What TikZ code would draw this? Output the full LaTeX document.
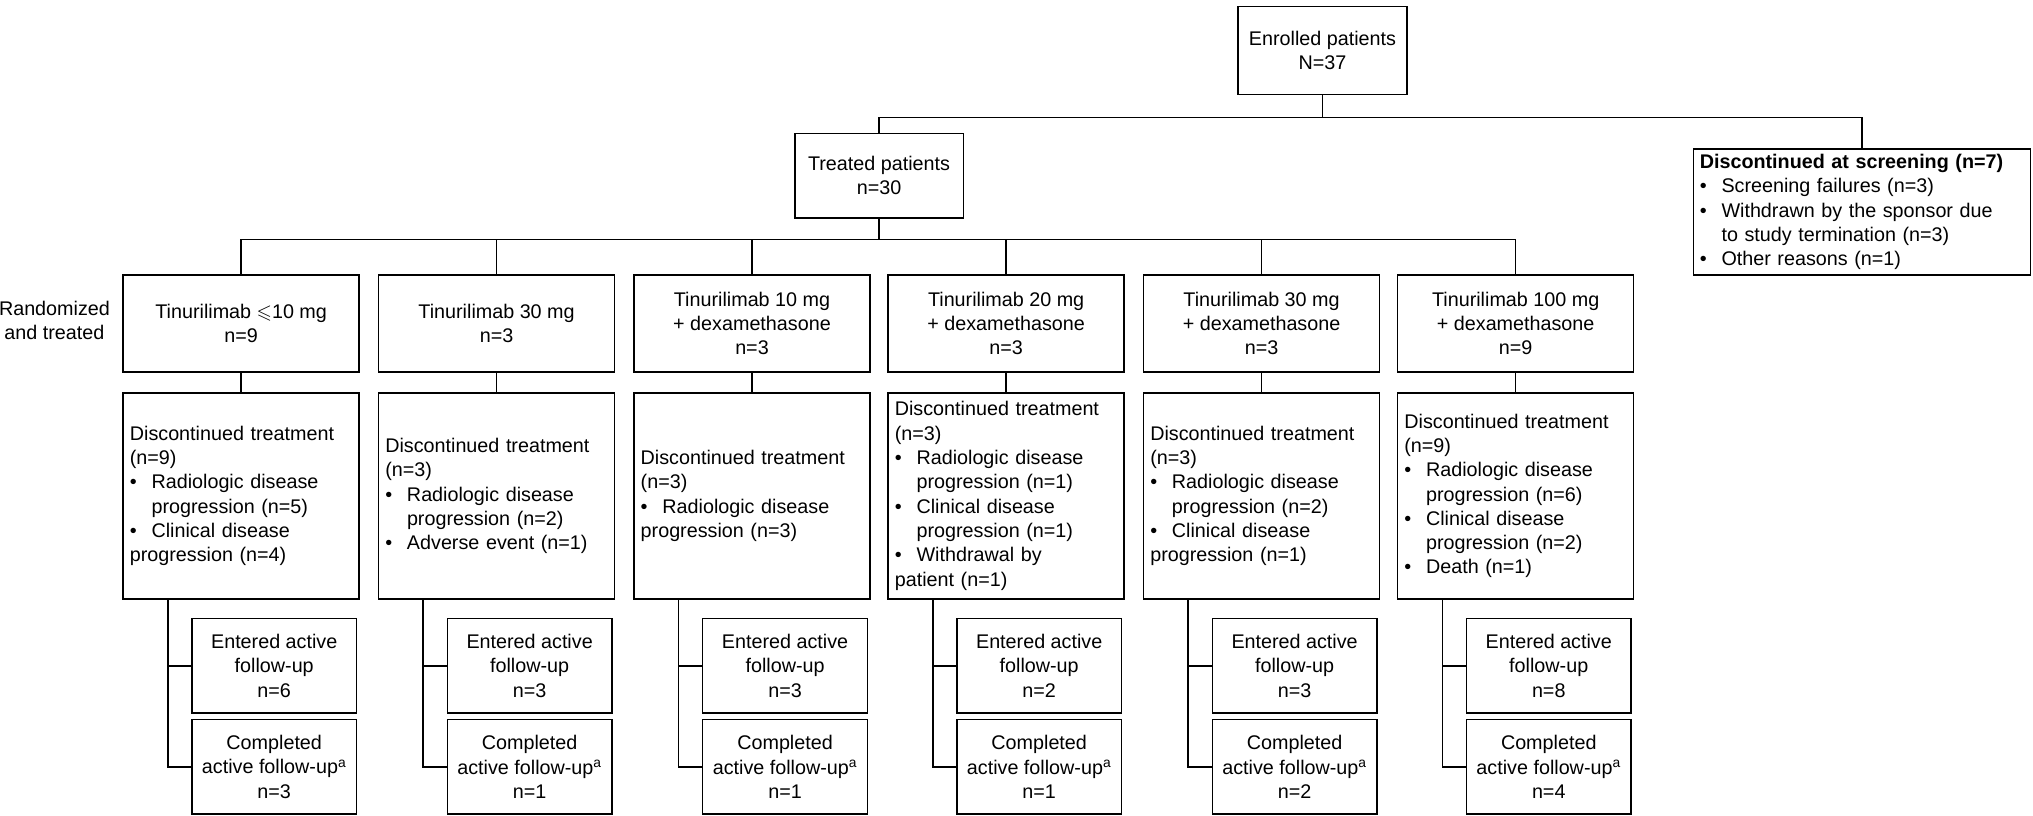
\documentclass[tikz,border=0pt]{standalone}
\usepackage{amssymb}
\usepackage{fontspec}
\setmainfont{Liberation Sans}
\usetikzlibrary{positioning,calc}
\newcommand{\bitem}[1]{\par\hangindent=1.1em\hangafter=1\noindent\makebox[1.1em][l]{\textbullet}#1}

\begin{document}
\begin{tikzpicture}[x=0.03cm,y=-0.03cm,line width=1pt,
    box/.style={draw,align=center,font=\fontsize{13}{16}\selectfont},
    arm/.style={box,minimum width=5.46cm,minimum height=2.25cm},
    disc/.style={box,minimum width=5.46cm,minimum height=4.77cm,text width=5.15cm,align=left},
    fup/.style={box,minimum width=3.81cm,minimum height=2.19cm}]
    \useasboundingbox (0,0) rectangle (1568,628.6);

    \node[box,minimum width=3.9cm,minimum height=2.04cm] (enr) at (1020,39) {Enrolled patients\\N=37};
    \node[box,minimum width=3.9cm,minimum height=1.95cm] (treat) at (678,135.5) {Treated patients\\n=30};
    \node[box,minimum width=7.8cm,minimum height=2.91cm,text width=7.5cm,align=left] (screen) at (1436,163.5)
        {\textbf{Discontinued at screening (n=7)}
         \bitem{Screening failures (n=3)}
         \bitem{Withdrawn by the sponsor due\newline to study termination (n=3)}
         \bitem{Other reasons (n=1)}};
    \draw (enr.south) -- ++(0,17) -| (treat.north);
    \draw (enr.south) -- ++(0,17) -| (screen.north);

    \node[align=center,font=\fontsize{13}{16}\selectfont] (rand) at (42,247) {Randomized\\and treated};

    % Treatment arms
    \foreach \i/\l/\t in {1/95/{Tinurilimab $\leqslant$10 mg\\n=9},
                          2/292/{Tinurilimab 30 mg\\n=3},
                          3/489/{Tinurilimab 10 mg\\+ dexamethasone\\n=3},
                          4/685/{Tinurilimab 20 mg\\+ dexamethasone\\n=3},
                          5/882/{Tinurilimab 30 mg\\+ dexamethasone\\n=3},
                          6/1078/{Tinurilimab 100 mg\\+ dexamethasone\\n=9}} {
        \node[arm] (arm\i) at (\l+91,249.5) {\t};
        \draw (treat.south) -- ++(0,16) -| (arm\i.north);
    }

    % Discontinued treatment
    \node[disc] (disc1) at (186,382.5) {Discontinued treatment\newline(n=9)
        \bitem{Radiologic disease\newline progression (n=5)}
        \bitem{Clinical disease\newline progression (n=4)}};
    \node[disc] (disc2) at (383,382.5) {Discontinued treatment\newline(n=3)
        \bitem{Radiologic disease\newline progression (n=2)}
        \bitem{Adverse event (n=1)}};
    \node[disc] (disc3) at (580,382.5) {Discontinued treatment\newline(n=3)
        \bitem{Radiologic disease\newline progression (n=3)}};
    \node[disc] (disc4) at (776,382.5) {Discontinued treatment\newline(n=3)
        \bitem{Radiologic disease\newline progression (n=1)}
        \bitem{Clinical disease\newline progression (n=1)}
        \bitem{Withdrawal by\newline patient (n=1)}};
    \node[disc] (disc5) at (973,382.5) {Discontinued treatment\newline(n=3)
        \bitem{Radiologic disease\newline progression (n=2)}
        \bitem{Clinical disease\newline progression (n=1)}};
    \node[disc] (disc6) at (1169,382.5) {Discontinued treatment\newline(n=9)
        \bitem{Radiologic disease\newline progression (n=6)}
        \bitem{Clinical disease\newline progression (n=2)}
        \bitem{Death (n=1)}};

    % Follow-up
    \foreach \i/\l/\e/\c in {1/95/6/3,2/292/3/1,3/489/3/1,4/685/2/1,5/882/3/2,6/1078/8/4} {
        \draw (arm\i.south) -- (disc\i.north);
        \node[fup] (ent\i) at (\l+116.5,513.5) {Entered active\\follow-up\\n=\e};
        \node[fup] (comp\i) at (\l+116.5,591.5) {Completed\\active follow-up\textsuperscript{a}\\n=\c};
        \draw ([xshift=1.05cm]disc\i.south west) |- (ent\i.west);
        \draw ([xshift=1.05cm]disc\i.south west) |- (comp\i.west);
    }
\end{tikzpicture}
\end{document}
